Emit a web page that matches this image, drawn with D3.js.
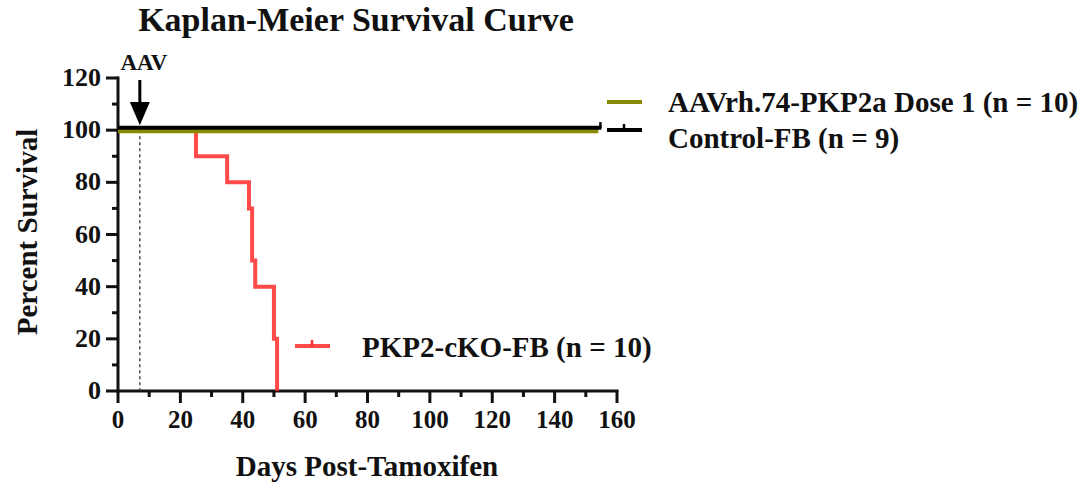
<!DOCTYPE html>
<html>
<head>
<meta charset="utf-8">
<script src="https://d3js.org/d3.v7.min.js"></script>
<style>
  body { margin: 0; background: #fff; }
  text { font-family: "Liberation Serif", "Times New Roman", serif; font-weight: bold; fill: #111; }
</style>
</head>
<body>
<svg width="1091" height="485"></svg>
<script>
var svg = d3.select("svg");

// data
var koDays = [0, 25, 35, 42, 43, 44, 50, 51];
var koSurvival = [100, 90, 80, 70, 50, 40, 20, 0];
var aavDays = [0, 154];
var aavSurvival = [100, 100];
var ctrlDays = [0, 155];
var ctrlSurvival = [100, 100];
var aavInjectionDay = 7;
var xTicks = [0, 20, 40, 60, 80, 100, 120, 140, 160];
var yTicks = [0, 20, 40, 60, 80, 100, 120];

var x = d3.scaleLinear().domain([0, 160]).range([118, 617]);
var y = d3.scaleLinear().domain([0, 120]).range([391, 78]);

var red = "#ff2a2a", olive = "#8a8a00";

// title
svg.append("text")
    .attr("x", 356).attr("y", 31)
    .attr("text-anchor", "middle")
    .style("font-size", "34px")
    .text("Kaplan-Meier Survival Curve");

// axes
var xAxis = svg.append("g").attr("transform", "translate(0," + y(0) + ")");
xAxis.append("line").attr("x1", x(0) - 1.5).attr("x2", x(160) + 1.5).attr("stroke", "#111").attr("stroke-width", 3);
xAxis.selectAll(".tk").data(d3.range(0, 161, 10)).enter().append("line")
    .attr("x1", function(d) { return x(d); }).attr("x2", function(d) { return x(d); })
    .attr("y1", 0).attr("y2", function(d) { return d % 20 === 0 ? 12 : 6; })
    .attr("stroke", "#111").attr("stroke-width", 3);
xAxis.selectAll(".lb").data(xTicks).enter().append("text")
    .attr("x", function(d) { return x(d); }).attr("y", 37)
    .attr("text-anchor", "middle").style("font-size", "25px")
    .text(function(d) { return d; });

var yAxis = svg.append("g").attr("transform", "translate(" + x(0) + ",0)");
yAxis.append("line").attr("y1", y(0) + 1.5).attr("y2", y(120) - 1.5).attr("stroke", "#111").attr("stroke-width", 3);
yAxis.selectAll(".tk").data(d3.range(0, 121, 10)).enter().append("line")
    .attr("y1", function(d) { return y(d); }).attr("y2", function(d) { return y(d); })
    .attr("x1", 0).attr("x2", function(d) { return d % 20 === 0 ? -12 : -6; })
    .attr("stroke", "#111").attr("stroke-width", 3);
yAxis.selectAll(".lb").data(yTicks).enter().append("text")
    .attr("x", -17).attr("y", function(d) { return y(d) + 8; })
    .attr("text-anchor", "end").style("font-size", "26px")
    .text(function(d) { return d; });

svg.append("text")
    .attr("x", 367).attr("y", 476)
    .attr("text-anchor", "middle").style("font-size", "29px")
    .text("Days Post-Tamoxifen");
svg.append("text")
    .attr("transform", "translate(37,232) rotate(-90)")
    .attr("text-anchor", "middle").style("font-size", "29px")
    .text("Percent Survival");

// AAV marker
var ax = x(aavInjectionDay);
svg.append("line")
    .attr("x1", ax).attr("x2", ax)
    .attr("y1", y(100)).attr("y2", y(0))
    .attr("stroke", "#333").attr("stroke-width", 1.3).attr("stroke-dasharray", "3,3");
svg.append("line")
    .attr("x1", ax).attr("x2", ax)
    .attr("y1", 80).attr("y2", 106)
    .attr("stroke", "#000").attr("stroke-width", 3);
svg.append("path")
    .attr("d", "M" + (ax - 10) + ",102 L" + (ax + 10) + ",102 L" + ax + "," + (y(100) - 5) + "Z")
    .attr("fill", "#000");
svg.append("text")
    .attr("x", ax + 4).attr("y", 70)
    .attr("text-anchor", "middle").style("font-size", "23px")
    .text("AAV");

// survival curves
var step = d3.line()
    .x(function(d) { return x(d[0]); })
    .y(function(d) { return y(d[1]); })
    .curve(d3.curveStepAfter);

svg.append("path")
    .datum(d3.zip(koDays, koSurvival))
    .attr("d", step)
    .attr("fill", "none").attr("stroke", red).attr("stroke-opacity", 0.85).attr("stroke-width", 4);

svg.append("path")
    .datum(d3.zip(aavDays, aavSurvival))
    .attr("d", step)
    .attr("transform", "translate(0,1)")
    .attr("fill", "none").attr("stroke", olive).attr("stroke-width", 4);

svg.append("path")
    .datum(d3.zip(ctrlDays, ctrlSurvival))
    .attr("d", step)
    .attr("transform", "translate(0,-2.5)")
    .attr("fill", "none").attr("stroke", "#000").attr("stroke-width", 4);
svg.append("line")
    .attr("x1", x(155) - 1).attr("x2", x(155) - 1)
    .attr("y1", y(100) - 8).attr("y2", y(100) - 2)
    .attr("stroke", "#000").attr("stroke-width", 2.5);

// legend
var legendItems = [
  { label: "AAVrh.74-PKP2a Dose 1 (n = 10)", color: olive, lx: 607, ly: 102, tx: 668, ty: 112, tick: false },
  { label: "Control-FB (n = 9)", color: "#000", lx: 607, ly: 130, tx: 668, ty: 148, tick: true },
  { label: "PKP2-cKO-FB (n = 10)", color: red, lx: 295, ly: 346, tx: 362, ty: 357, tick: true }
];
var lg = svg.selectAll(".legend").data(legendItems).enter().append("g");
lg.append("line")
    .attr("x1", function(d) { return d.lx; }).attr("x2", function(d) { return d.lx + 35; })
    .attr("y1", function(d) { return d.ly; }).attr("y2", function(d) { return d.ly; })
    .attr("stroke", function(d) { return d.color; }).attr("stroke-width", 4)
    .attr("stroke-opacity", function(d) { return d.color === red ? 0.85 : 1; });
lg.filter(function(d) { return d.tick; }).append("line")
    .attr("x1", function(d) { return d.lx + 17; }).attr("x2", function(d) { return d.lx + 17; })
    .attr("y1", function(d) { return d.ly - 6; }).attr("y2", function(d) { return d.ly; })
    .attr("stroke", function(d) { return d.color; }).attr("stroke-width", 2.5);
lg.append("text")
    .attr("x", function(d) { return d.tx; }).attr("y", function(d) { return d.ty; })
    .style("font-size", "29px")
    .text(function(d) { return d.label; });
</script>
</body>
</html>
